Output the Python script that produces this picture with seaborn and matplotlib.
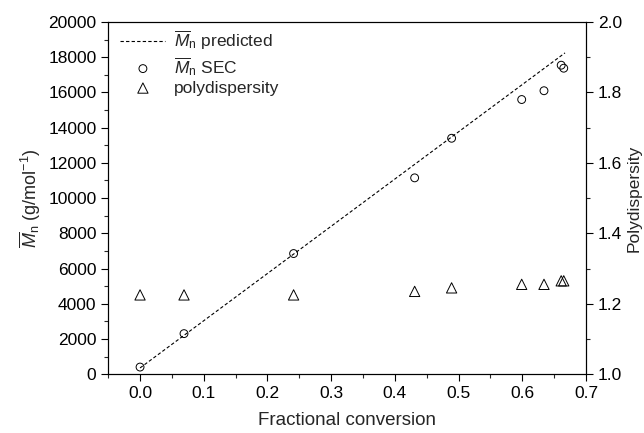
import numpy as np
import pandas as pd
import matplotlib
matplotlib.use("Agg")
import matplotlib.pyplot as plt
import seaborn as sns
from matplotlib.ticker import MultipleLocator

# Datos
conversion = [0.0, 0.069, 0.241, 0.431, 0.489, 0.599, 0.634, 0.661, 0.665]
mn_sec = [400, 2300, 6850, 11150, 13400, 15600, 16100, 17550, 17380]
polidispersidad = [1.225, 1.225, 1.225, 1.235, 1.245, 1.255, 1.255, 1.265, 1.265]
conv_pred = [0.0, 0.667]
mn_pred = [350, 18250]

df = pd.DataFrame({"conv": conversion, "mn": mn_sec, "pdi": polidispersidad})
df_pred = pd.DataFrame({"conv": conv_pred, "mn": mn_pred})

sns.set_theme(style="ticks")
plt.rcParams["font.family"] = ["Liberation Sans", "DejaVu Sans"]
plt.rcParams["mathtext.fontset"] = "custom"
plt.rcParams["mathtext.rm"] = "Liberation Sans"
plt.rcParams["mathtext.it"] = "Liberation Sans:italic"

fig = plt.figure(figsize=(6.44, 4.33), dpi=100)
ax = fig.add_axes([0.168, 0.136, 0.742, 0.813])
ax2 = ax.twinx()

mn_lbl = r"$\overline{M}_{\rm n}$"
sns.lineplot(data=df_pred, x="conv", y="mn", ax=ax, color="black", linestyle=(0, (3, 2)),
             linewidth=0.8, label=mn_lbl + " predicted")
sns.scatterplot(data=df, x="conv", y="mn", ax=ax, marker="o", s=32, facecolor="none",
                edgecolor="black", linewidth=0.7, label=mn_lbl + " SEC")
sns.scatterplot(data=df, x="conv", y="pdi", ax=ax2, marker="^", s=55, facecolor="none",
                edgecolor="black", linewidth=0.7, label="polydispersity")

ax.set_xlim(-0.05, 0.7)
ax.set_ylim(0, 20000)
ax2.set_ylim(1.0, 2.0)
ax.xaxis.set_major_locator(MultipleLocator(0.1))
ax.xaxis.set_minor_locator(MultipleLocator(0.05))
ax.yaxis.set_major_locator(MultipleLocator(2000))
ax.yaxis.set_minor_locator(MultipleLocator(1000))
ax2.yaxis.set_major_locator(MultipleLocator(0.2))
ax2.yaxis.set_minor_locator(MultipleLocator(0.1))

for a in (ax, ax2):
    a.tick_params(which="major", direction="out", length=5, width=0.8, labelsize=12.5, colors="black")
    a.tick_params(which="minor", direction="out", length=3, width=0.8)
    for s in a.spines.values():
        s.set_visible(True)
        s.set_linewidth(0.8)
        s.set_color("black")

ax.set_xlabel("Fractional conversion", fontsize=13.5, labelpad=8)
ax.set_ylabel(mn_lbl + r" (g/mol$^{-1}$)", fontsize=13, labelpad=4)
ax2.set_ylabel("Polydispersity", fontsize=12.5, labelpad=3)

h1, l1 = ax.get_legend_handles_labels()
h2, l2 = ax2.get_legend_handles_labels()
if ax2.get_legend():
    ax2.get_legend().remove()
ax.legend(h1 + h2, l1 + l2, loc="upper left", bbox_to_anchor=(0.0, 1.015), frameon=False,
          fontsize=12.5, handlelength=2.6, handletextpad=0.5, labelspacing=0.15, borderaxespad=0.3)

fig.savefig("out.png", dpi=100)
